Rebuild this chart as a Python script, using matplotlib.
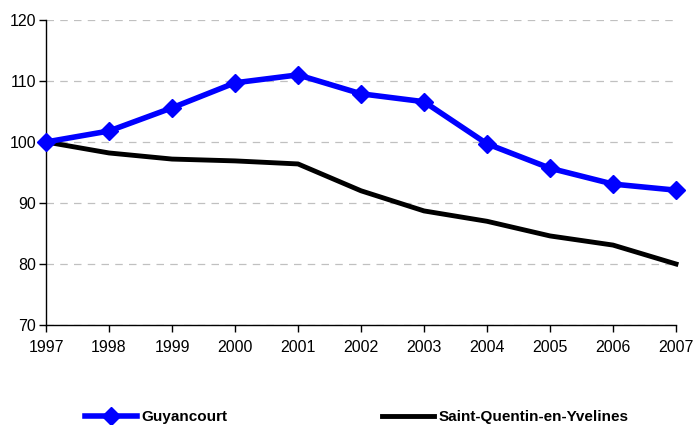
import matplotlib
matplotlib.use("Agg")
import matplotlib.pyplot as plt

plt.rcParams['font.family'] = ['Liberation Sans', 'DejaVu Sans']

years = [1997, 1998, 1999, 2000, 2001, 2002, 2003, 2004, 2005, 2006, 2007]
guyancourt = [100, 101.8, 105.6, 109.7, 111.0, 107.9, 106.6, 99.7, 95.7, 93.1, 92.1]
sqy = [100, 98.2, 97.2, 96.9, 96.4, 92.0, 88.7, 87.0, 84.6, 83.1, 80.0]

fig = plt.figure(figsize=(6.93, 4.25), dpi=100)
ax = fig.add_axes([0.0664, 0.2353, 0.9091, 0.7177])

ax.plot(years, guyancourt, color='#0000ff', lw=4, marker='D', markersize=9,
        label='Guyancourt', zorder=3)
ax.plot(years, sqy, color='black', lw=3.5, label='Saint-Quentin-en-Yvelines', zorder=2)

ax.set_xlim(1997, 2007)
ax.set_ylim(70, 120)
ax.set_xticks(years)
ax.set_yticks(range(70, 121, 10))
ax.yaxis.grid(True, color='#c0c0c0', linestyle=(0, (6, 5)), lw=0.9)
ax.set_axisbelow(True)
for s in ['top', 'right']:
    ax.spines[s].set_visible(False)
ax.spines['left'].set_linewidth(1.0)
ax.spines['bottom'].set_linewidth(1.0)
ax.tick_params(axis='both', direction='out', length=5, width=1, labelsize=11.5, pad=6)
ax.tick_params(axis='y', pad=2)
for line in ax.get_lines():
    line.set_clip_on(False)

leg = fig.legend(loc='lower left', bbox_to_anchor=(0.103, -0.03), ncol=2, frameon=False,
                 handlelength=3.4, columnspacing=10.1, handletextpad=0.3,
                 prop={'weight': 'bold', 'size': 11})

fig.savefig('out.png', dpi=100)
